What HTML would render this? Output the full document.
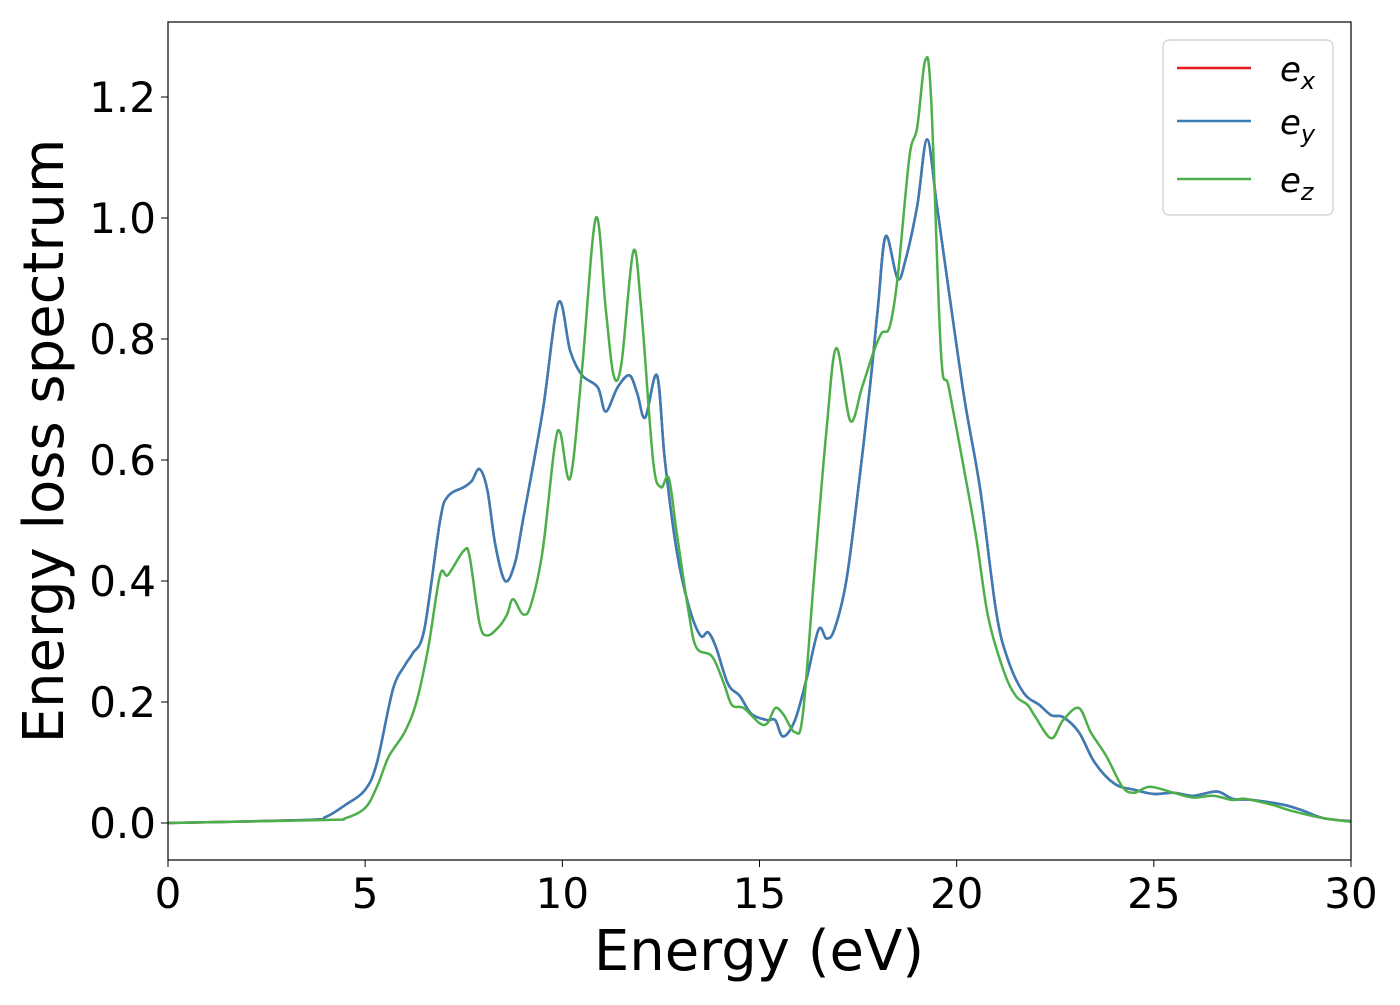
<!DOCTYPE html>
<html><head><meta charset="utf-8"><style>
body{margin:0;background:#fff;}
svg text{font-family:"DejaVu Sans","Liberation Sans",sans-serif;fill:#000;}
</style></head><body>
<svg id="chart" width="1400" height="1000" xmlns="http://www.w3.org/2000/svg">
<rect width="1400" height="1000" fill="#fff"/>
<g id="plot"></g>
<rect x="168" y="22" width="1183" height="838" fill="none" stroke="#000" stroke-width="1.2"/>
<g id="xticks"></g>
<g id="yticks"></g>
<text x="759" y="970" font-size="56" text-anchor="middle">Energy (eV)</text>
<text transform="translate(63,441) rotate(-90)" font-size="56" text-anchor="middle">Energy loss spectrum</text>
<g>
<rect x="1163" y="40" width="170" height="175" rx="6" fill="#fff" fill-opacity="0.8" stroke="#ccc" stroke-width="1.2"/>
<line x1="1177" y1="68" x2="1251" y2="68" stroke="#e41a1c" stroke-width="2.5"/>
<text x="1280" y="81" font-size="34" font-style="italic">e<tspan font-size="24" dy="8">x</tspan></text>
<line x1="1177" y1="121" x2="1251" y2="121" stroke="#377eb8" stroke-width="2.5"/>
<text x="1280" y="134" font-size="34" font-style="italic">e<tspan font-size="24" dy="8">y</tspan></text>
<line x1="1177" y1="179" x2="1251" y2="179" stroke="#4daf4a" stroke-width="2.5"/>
<text x="1280" y="192" font-size="34" font-style="italic">e<tspan font-size="24" dy="8">z</tspan></text>
</g>
</svg>
<script>
const xyE=[0,3.5,4,4.5,5,5.3,5.7,6.0,6.2,6.5,6.9,7.1,7.5,7.7,7.9,8.1,8.3,8.55,8.8,9.0,9.5,9.9,10.2,10.5,10.9,11.1,11.4,11.7,11.9,12.1,12.4,12.6,12.9,13.2,13.5,13.7,13.9,14.2,14.5,14.8,15.2,15.4,15.6,15.9,16.2,16.5,16.7,16.9,17.2,17.5,17.8,18.0,18.2,18.5,18.7,19.0,19.25,19.5,19.8,20.2,20.6,21.0,21.3,21.7,22.1,22.4,22.7,23.1,23.5,24,24.5,25,25.5,26,26.6,27,27.5,28.3,28.8,29.3,30];
const xyV=[0,0.005,0.01,0.03,0.055,0.1,0.22,0.26,0.28,0.32,0.5,0.54,0.555,0.565,0.585,0.55,0.46,0.40,0.43,0.5,0.68,0.86,0.78,0.74,0.72,0.68,0.72,0.74,0.71,0.67,0.74,0.6,0.45,0.36,0.31,0.315,0.29,0.23,0.21,0.18,0.17,0.17,0.143,0.17,0.24,0.32,0.305,0.32,0.4,0.55,0.72,0.85,0.97,0.9,0.93,1.02,1.13,1.02,0.88,0.7,0.55,0.35,0.27,0.215,0.195,0.178,0.175,0.15,0.1,0.065,0.055,0.048,0.05,0.045,0.052,0.04,0.038,0.03,0.02,0.008,0.003];
const zE=[0,4,4.5,5,5.3,5.6,6.0,6.3,6.6,6.9,7.1,7.5,7.65,7.9,8.1,8.4,8.6,8.75,9.0,9.2,9.5,9.8,9.95,10.2,10.5,10.85,11.1,11.3,11.5,11.8,12.0,12.3,12.5,12.7,12.9,13.2,13.4,13.8,14.1,14.3,14.6,15.0,15.2,15.4,15.6,15.9,16.1,16.4,16.7,16.95,17.3,17.6,17.9,18.1,18.3,18.5,18.8,19.0,19.2,19.35,19.6,19.8,20.2,20.5,20.8,21.2,21.5,21.8,22.0,22.4,22.7,23.1,23.4,23.8,24.2,24.5,24.9,25.5,26,26.5,27,27.3,28,28.5,29.3,30];
const zV=[0,0.005,0.008,0.025,0.06,0.11,0.15,0.2,0.29,0.41,0.41,0.45,0.44,0.33,0.31,0.325,0.345,0.37,0.345,0.36,0.45,0.62,0.645,0.57,0.75,1.0,0.85,0.74,0.76,0.945,0.85,0.6,0.555,0.57,0.48,0.35,0.29,0.275,0.23,0.195,0.19,0.165,0.165,0.19,0.18,0.15,0.18,0.42,0.65,0.785,0.665,0.72,0.78,0.81,0.82,0.9,1.1,1.15,1.26,1.2,0.78,0.72,0.58,0.47,0.34,0.25,0.21,0.195,0.175,0.14,0.17,0.19,0.15,0.11,0.06,0.05,0.06,0.05,0.042,0.045,0.038,0.04,0.03,0.02,0.008,0.002];
const xTicks=[0,5,10,15,20,25,30];
const yTicks=[0.0,0.2,0.4,0.6,0.8,1.0,1.2];
const X0=168,X1=1351,Y0=823,Y12=97;
function sx(e){return X0+(e/30)*(X1-X0);}
function sy(v){return Y0-(v/1.2)*(Y0-Y12);}
const NS="http://www.w3.org/2000/svg";
function pathFor(E,V){
  const p=E.map((e,i)=>[sx(e),sy(V[i])]);
  let d="M"+p[0][0]+","+p[0][1];
  for(let i=0;i<p.length-1;i++){
    const a=p[Math.max(0,i-1)],b=p[i],c=p[i+1],n=p[Math.min(p.length-1,i+2)];
    const c1=[b[0]+(c[0]-a[0])/6,b[1]+(c[1]-a[1])/6],c2=[c[0]-(n[0]-b[0])/6,c[1]-(n[1]-b[1])/6];
    d+=" C"+c1[0]+","+c1[1]+" "+c2[0]+","+c2[1]+" "+c[0]+","+c[1];
  }
  return d;
}
const plot=document.getElementById('plot');
function addLine(E,V,color,name){
  const el=document.createElementNS(NS,'path');
  el.setAttribute('d',pathFor(E,V));
  el.setAttribute('fill','none');el.setAttribute('stroke',color);el.setAttribute('stroke-width','2.5');
  
  
  plot.appendChild(el);
}
addLine(xyE,xyV,'#e41a1c','series-ex');
addLine(xyE,xyV,'#377eb8','series-ey');
addLine(zE,zV,'#4daf4a','series-ez');
const xg=document.getElementById('xticks');
xTicks.forEach(t=>{
  const l=document.createElementNS(NS,'line');
  l.setAttribute('x1',sx(t));l.setAttribute('x2',sx(t));l.setAttribute('y1',860);l.setAttribute('y2',867);l.setAttribute('stroke','#000');
  
  
  xg.appendChild(l);
  const tx=document.createElementNS(NS,'text');
  tx.setAttribute('x',sx(t));tx.setAttribute('y',908);tx.setAttribute('font-size','42');tx.setAttribute('text-anchor','middle');
  tx.textContent=t;
  
  
  xg.appendChild(tx);
});
const yg=document.getElementById('yticks');
yTicks.forEach(t=>{
  const l=document.createElementNS(NS,'line');
  l.setAttribute('x1',161);l.setAttribute('x2',168);l.setAttribute('y1',sy(t));l.setAttribute('y2',sy(t));l.setAttribute('stroke','#000');
  
  
  yg.appendChild(l);
  const tx=document.createElementNS(NS,'text');
  tx.setAttribute('x',156);tx.setAttribute('y',sy(t)+15);tx.setAttribute('font-size','42');tx.setAttribute('text-anchor','end');
  tx.textContent=t.toFixed(1);
  
  
  yg.appendChild(tx);
});
</script>
</body></html>
